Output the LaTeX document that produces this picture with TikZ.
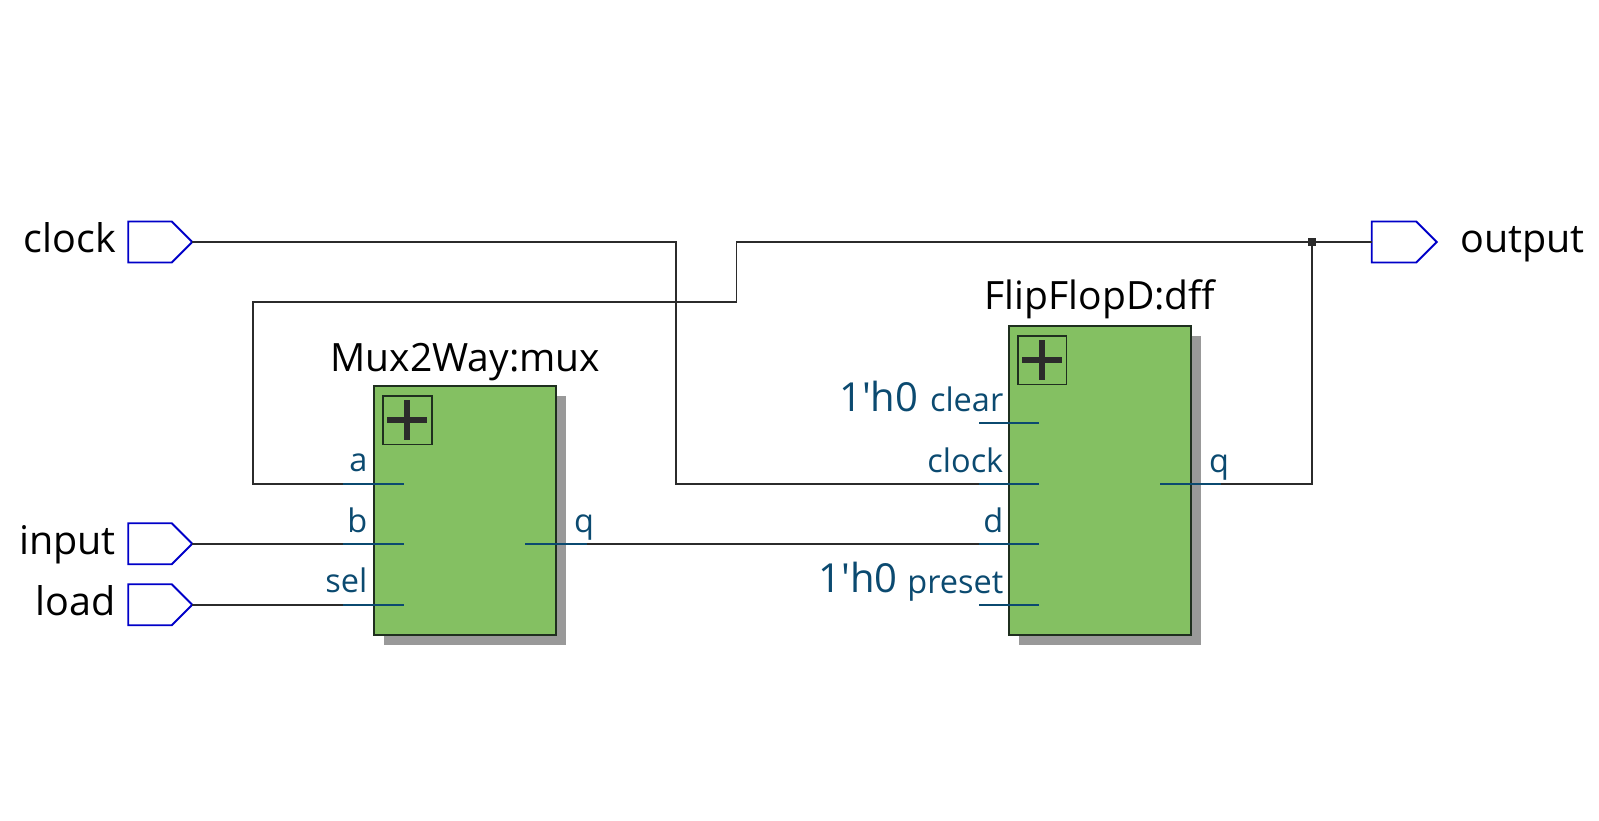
\documentclass[tikz,border=0pt]{standalone}
\usepackage{fontspec}
\setmainfont{Open Sans}
\newfontfamily\constfont{Open Sans}
\usetikzlibrary{shapes.symbols}
\definecolor{wirec}{HTML}{2B2B2B}
\definecolor{portc}{HTML}{0B4A70}
\definecolor{pinc}{HTML}{0000C8}
\definecolor{boxg}{HTML}{84C062}
\definecolor{shadowc}{HTML}{999999}
\definecolor{boxl}{HTML}{1F2F1F}
\tikzset{
  x=1pt,y=-1pt,
  pinbox/.style={signal,signal to=east,signal from=nowhere,draw=pinc,line width=1.9pt,fill=white,inner sep=0pt,outer sep=0pt,minimum width=64pt,minimum height=41pt,anchor=west},
  wire/.style={draw=wirec,line width=1.7pt},
  portline/.style={draw=portc,line width=1.7pt},
  pinlabel/.style={font=\fontsize{39.5}{39.5}\selectfont,text=black,inner sep=0pt},
  title/.style={font=\fontsize{39}{39}\selectfont,text=black,inner sep=0pt,anchor=base},
  portlabel/.style={font=\fontsize{32.5}{32.5}\selectfont,text=portc,inner sep=0pt},
  constlabel/.style={font=\constfont\fontsize{40}{40}\selectfont,text=portc,inner sep=0pt,anchor=base east},
  shadowbox/.style={fill=shadowc,inner sep=0pt,outer sep=0pt,anchor=north west},
  blockbox/.style={draw=boxl,fill=boxg,line width=1.9pt,inner sep=0pt,outer sep=0pt,anchor=north west},
  plusbox/.style={draw=boxl,line width=1.7pt,inner sep=0pt,outer sep=0pt,minimum width=48.5pt,minimum height=48.5pt,anchor=north west},
  plusbar/.style={draw=wirec,line width=5.5pt},
}
\begin{document}
\begin{tikzpicture}
\useasboundingbox (0,0) rectangle (1599,820);
% shadows
\node[shadowbox,minimum width=181.5pt,minimum height=248.7pt] (muxs) at (384.2,396) {};
\node[shadowbox,minimum width=182pt,minimum height=308.7pt] (dffs) at (1019,336) {};
% blocks
\node[blockbox,minimum width=182pt,minimum height=249.3pt] (mux) at (374,385.7) {};
\node[blockbox,minimum width=182.6pt,minimum height=309pt] (dff) at (1008.7,326) {};
\node[plusbox] (muxp) at (383.2,396) {};
\node[plusbox] (dffp) at (1018,336) {};
\draw[plusbar] (387,420) coordinate (mpl) -- (427,420) coordinate (mpr);
\draw[plusbar] (406.8,400) coordinate (mpt) -- (406.8,440) coordinate (mpb);
\draw[plusbar] (1022,360) coordinate (dpl) -- (1062,360) coordinate (dpr);
\draw[plusbar] (1042,340) coordinate (dpt) -- (1042,380) coordinate (dpb);
% pins
\node[pinbox] (pclock) at (128.2,242) {};
\node[pinbox] (pinput) at (128.2,543.7) {};
\node[pinbox] (pload) at (128.2,604.7) {};
\node[pinbox,minimum width=65pt] (poutput) at (1371.7,242) {};
% named ports
\coordinate (ma) at (403.7,484);
\coordinate (mai) at (342.5,484);
\coordinate (mb) at (403.7,543.7);
\coordinate (mbi) at (342.5,543.7);
\coordinate (ms) at (403.7,604.7);
\coordinate (msi) at (342.5,604.7);
\coordinate (mq) at (525.4,543.7);
\coordinate (mqo) at (587,543.7);
\coordinate (dcl) at (1039,422.7);
\coordinate (dcli) at (979.3,422.7);
\coordinate (dck) at (1039,484);
\coordinate (dcki) at (979.3,484);
\coordinate (dd) at (1039,543.7);
\coordinate (ddi) at (979.3,543.7);
\coordinate (dpre) at (1039,604.7);
\coordinate (dprei) at (979.3,604.7);
\coordinate (dq) at (1160,484);
\coordinate (dqo) at (1221,484);
\coordinate (junc) at (1311.7,242);
% wires
\draw[wire,line join=miter] (pclock.east) -- (676,242) -- (676,484) -- (dck);
\draw[wire] (dq) -- (1311.7,484) -- (junc);
\draw[wire] (junc) -- (poutput.west);
\draw[wire,line join=miter] (junc) -- (736.5,242) -- (736.5,302) -- (253,302) -- (253,484) -- (ma);
\draw[wire] (pinput.east) -- (mb);
\draw[wire] (pload.east) -- (ms);
\draw[wire] (mq) -- (dd);
\fill[wirec] (1307.7,238) rectangle (1315.7,246);
% port stubs
\draw[portline] (mai) -- (ma);
\draw[portline] (mbi) -- (mb);
\draw[portline] (msi) -- (ms);
\draw[portline] (mq) -- (mqo);
\draw[portline] (dcli) -- (dcl);
\draw[portline] (dcki) -- (dck);
\draw[portline] (ddi) -- (dd);
\draw[portline] (dprei) -- (dpre);
\draw[portline] (dq) -- (dqo);
% labels
\node[pinlabel,anchor=base east] (lclock) at (116,252.5) {clock};
\node[pinlabel,anchor=base east] (linput) at (116,554.5) {input};
\node[pinlabel,anchor=base east] (lload) at (116,615.5) {load};
\node[pinlabel,anchor=base west] (loutput) at (1460,252.5) {output};
\node[title] (tmux) at (465.5,371) {Mux2Way:mux};
\node[title] (tdff) at (1100,309.5) {FlipFlopD:dff};
\node[portlabel,anchor=base east] (la) at (367.6,471) {a};
\node[portlabel,anchor=base east] (lb) at (367.6,532) {b};
\node[portlabel,anchor=base east] (lsel) at (367.6,592) {sel};
\node[portlabel,anchor=base west] (lq) at (574,532) {q};
\node[portlabel,anchor=base east] (lclear) at (1003.5,411.5) {clear};
\node[portlabel,anchor=base east] (lck) at (1003.5,472.7) {clock};
\node[portlabel,anchor=base east] (ld) at (1003.5,532) {d};
\node[portlabel,anchor=base east] (lpre) at (1003.5,593) {preset};
\node[portlabel,anchor=base west] (lq2) at (1209,472.5) {q};
\node[constlabel] (c1) at (918.5,411) {1'h0};
\node[constlabel] (c2) at (898,592) {1'h0};
\end{tikzpicture}
\end{document}
